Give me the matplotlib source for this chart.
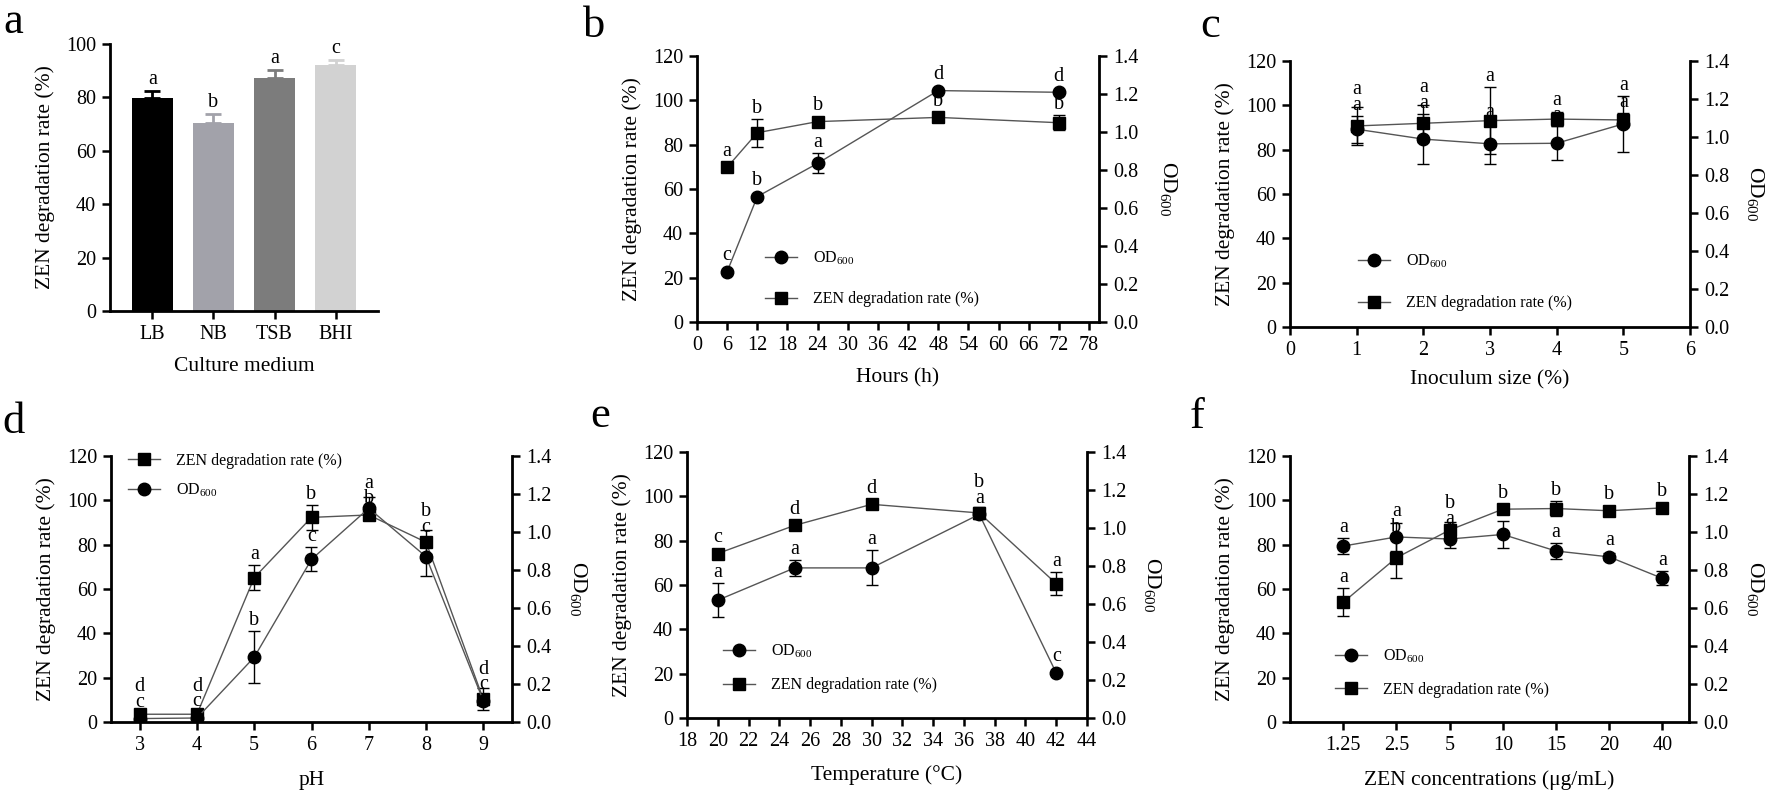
import numpy as np
import matplotlib
matplotlib.use('Agg')
import matplotlib.pyplot as plt

plt.rcParams['font.family'] = ['Liberation Serif', 'DejaVu Serif']
plt.rcParams['mathtext.fontset'] = 'custom'
plt.rcParams['mathtext.rm'] = 'Liberation Serif'
plt.rcParams['mathtext.it'] = 'Liberation Serif:italic'

# ---- data ----
# a: culture medium
media = ['LB', 'NB', 'TSB', 'BHI']
media_rate = [79.8, 70.4, 87.2, 92.2]
media_err = [2.6, 3.3, 3.0, 1.9]
media_letters = ['a', 'b', 'a', 'c']
media_colors = ['#000000', '#a2a2aa', '#7c7c7c', '#d2d2d2']

# b: time
hours = [6, 12, 24, 48, 72]
hours_rate = [69.8, 85.4, 90.4, 92.3, 89.9]
hours_rate_err = [0.5, 6.3, 1.5, 1.5, 3.5]
hours_od = [0.265, 0.660, 0.835, 1.218, 1.209]
hours_od_err = [0.01, 0.01, 0.053, 0.01, 0.01]
hours_rate_let = ['a', 'b', 'b', 'b', 'b']
hours_od_let = ['c', 'b', 'a', 'd', 'd']

# c: inoculum size
inoc = [1, 2, 3, 4, 5]
inoc_rate = [90.7, 91.9, 93.1, 93.8, 93.4]
inoc_rate_err = [8.4, 8.3, 15.0, 3.3, 3.0]
inoc_od = [1.041, 0.989, 0.964, 0.967, 1.069]
inoc_od_err = [0.070, 0.133, 0.107, 0.089, 0.146]
inoc_rate_let = ['a', 'a', 'a', 'a', 'a']
inoc_od_let = ['a', 'a', 'a', 'a', 'a']

# d: pH
ph = [3, 4, 5, 6, 7, 8, 9]
ph_rate = [3.5, 3.5, 65.1, 92.3, 93.4, 81.1, 10.2]
ph_rate_err = [0.8, 0.8, 5.6, 5.6, 2.0, 5.5, 5.0]
ph_od = [0.018, 0.021, 0.341, 0.856, 1.125, 0.870, 0.111]
ph_od_err = [0.005, 0.005, 0.138, 0.063, 0.060, 0.100, 0.020]
ph_rate_let = ['d', 'd', 'a', 'b', 'b', 'b', 'd']
ph_od_let = ['c', 'c', 'b', 'c', 'a', 'c', 'c']

# e: temperature
temp = [20, 25, 30, 37, 42]
temp_rate = [74.2, 86.9, 96.4, 92.5, 60.6]
temp_rate_err = [1.0, 1.0, 1.0, 2.5, 5.3]
temp_od = [0.620, 0.790, 0.790, 1.072, 0.237]
temp_od_err = [0.091, 0.043, 0.092, 0.018, 0.005]
temp_rate_let = ['c', 'd', 'd', 'b', 'a']
temp_od_let = ['a', 'a', 'a', 'a', 'c']

# f: ZEN concentration
conc = ['1.25', '2.5', '5', '10', '15', '20', '40']
conc_rate = [54.0, 74.1, 86.6, 96.0, 96.3, 95.3, 96.6]
conc_rate_err = [6.3, 9.0, 3.5, 1.0, 3.5, 1.0, 1.0]
conc_od = [0.926, 0.974, 0.963, 0.987, 0.900, 0.869, 0.756]
conc_od_err = [0.043, 0.076, 0.049, 0.070, 0.044, 0.018, 0.037]
conc_rate_let = ['a', 'b', 'b', 'b', 'b', 'b', 'b']
conc_od_let = ['a', 'a', 'a', 'a', 'a', 'a', 'a']

OD_LABEL = r'OD$_{\mathrm{600}}$'
RATE_LABEL = 'ZEN degradation rate (%)'

W, H = 1772, 794
fig = plt.figure(figsize=(W / 100, H / 100), dpi=100)


def box(l, r, t, b):
    return [l / W, 1 - b / H, (r - l) / W, (b - t) / H]


def style(ax, w_px, h_px, xlabel, ylabel, xlab_off, ylab_off=65):
    for s in ['top', 'right']:
        ax.spines[s].set_visible(False)
    for s in ['left', 'bottom']:
        ax.spines[s].set_linewidth(2)
    ax.tick_params(direction='out', length=6, width=1.8, labelsize=14.5, pad=4)
    ax.set_xlabel(xlabel, fontsize=15.5)
    ax.xaxis.set_label_coords(0.5, -xlab_off / h_px)
    ax.xaxis.label.set_va('center')
    ax.set_ylabel(ylabel, fontsize=15.5)
    ax.yaxis.set_label_coords(-ylab_off / w_px, 0.5)
    ax.yaxis.label.set_va('center')


def dual(rect, x, rate, rate_err, od, od_err, rate_let, od_let, xlim, xlabel,
         xlab_off, leg, od_first=True, xticks=None, xticklabels=None, r_off=70):
    l, r, t, b = rect
    w_px, h_px = r - l, b - t
    ax = fig.add_axes(box(l, r, t, b))
    ax2 = ax.twinx()
    style(ax, w_px, h_px, xlabel, RATE_LABEL, xlab_off)
    ax.set_ylim(0, 120)
    ax.set_yticks(np.arange(0, 121, 20))
    ax.set_xlim(*xlim)
    if xticks is not None:
        ax.set_xticks(xticks)
    if xticklabels is not None:
        ax.set_xticklabels(xticklabels)

    ax2.set_ylim(0, 1.4)
    ax2.set_yticks(np.arange(0, 1.41, 0.2))
    ax2.set_yticklabels(['%.1f' % v for v in np.arange(0, 1.41, 0.2)])
    for s in ['top', 'left', 'bottom']:
        ax2.spines[s].set_visible(False)
    ax2.spines['right'].set_linewidth(2)
    ax2.tick_params(direction='out', length=6, width=1.8, labelsize=14.5, pad=4)
    ax2.text(1 + r_off / w_px, 0.5, OD_LABEL, rotation=-90, ha='center', va='center',
             fontsize=15.5, transform=ax2.transAxes)

    ax.errorbar(x, rate, yerr=rate_err, fmt='none', ecolor='black',
                elinewidth=1, capsize=4, capthick=1, zorder=2)
    sq, = ax.plot(x, rate, color='#555555', lw=1, marker='s', ms=8.5,
                  mfc='black', mec='black', zorder=3, label=RATE_LABEL)
    ax2.errorbar(x, od, yerr=od_err, fmt='none', ecolor='black',
                 elinewidth=1, capsize=4, capthick=1, zorder=2)
    ci, = ax2.plot(x, od, color='#555555', lw=1, marker='o', ms=9,
                   mfc='black', mec='black', zorder=3, label=OD_LABEL)

    # significance letters, stacked when they collide
    k = 120 / 1.4
    for i, xi in enumerate(x):
        tops = [(max(rate[i] + rate_err[i], rate[i] + 2.5), rate_let[i]),
                (max((od[i] + od_err[i]) * k, od[i] * k + 2.5), od_let[i])]
        tops.sort(key=lambda p: p[0])
        lo = tops[0][0] + 0.5
        hi = max(tops[1][0] + 0.5, lo + 7)
        for yy, s in [(lo, tops[0][1]), (hi, tops[1][1])]:
            ax2.text(xi, yy, s, transform=ax.transData, ha='center', va='bottom',
                     fontsize=14.5, zorder=5)

    handles = [ci, sq] if od_first else [sq, ci]
    lx, ly, spacing = leg
    ax2.legend(handles=handles, loc='upper left', bbox_to_anchor=(lx, ly),
               frameon=False, fontsize=11.5, borderpad=0, borderaxespad=0,
               handlelength=2.0, handletextpad=1.0, labelspacing=spacing)
    return ax, ax2


# ---- a: bar chart ----
la, ra, ta, ba = 110, 378, 44, 311
axa = fig.add_axes(box(la, ra, ta, ba))
pos = np.arange(len(media))
axa.bar(pos, media_rate, width=0.67, color=media_colors, zorder=2)
for i in range(len(media)):
    axa.errorbar(pos[i], media_rate[i], yerr=[[0], [media_err[i]]], fmt='none',
                 ecolor=media_colors[i], elinewidth=2, capsize=6, capthick=2, zorder=1)
    axa.text(pos[i], media_rate[i] + media_err[i] + 0.8, media_letters[i],
             ha='center', va='bottom', fontsize=14.5)
axa.set_xlim(-0.69, 3.69)
axa.set_ylim(0, 100)
axa.set_yticks(np.arange(0, 101, 20))
axa.set_xticks(pos)
axa.set_xticklabels(media)
style(axa, ra - la, ba - ta, 'Culture medium', RATE_LABEL, 56)

# ---- b-f: dual axis line charts ----
dual((697, 1099, 56, 322), hours, hours_rate, hours_rate_err, hours_od, hours_od_err,
     hours_rate_let, hours_od_let, (0, 80), 'Hours (h)', 56, (0.17, 0.274, 1.55),
     xticks=np.arange(0, 79, 6))
dual((1290, 1690, 61, 327), inoc, inoc_rate, inoc_rate_err, inoc_od, inoc_od_err,
     inoc_rate_let, inoc_od_let, (0, 6), 'Inoculum size (%)', 53, (0.17, 0.278, 1.55),
     xticks=np.arange(0, 7, 1), r_off=66)
dual((111, 512, 456, 722), ph, ph_rate, ph_rate_err, ph_od, ph_od_err,
     ph_rate_let, ph_od_let, (2.5, 9.5), 'pH', 58, (0.042, 1.012, 0.8),
     od_first=False, xticks=ph, r_off=67)
dual((687, 1087, 452, 718), temp, temp_rate, temp_rate_err, temp_od, temp_od_err,
     temp_rate_let, temp_od_let, (18, 44), 'Temperature (°C)', 57, (0.091, 0.285, 1.1),
     xticks=np.arange(18, 45, 2), r_off=66)
cpos = np.arange(len(conc))
dual((1290, 1689, 456, 722), cpos, conc_rate, conc_rate_err, conc_od, conc_od_err,
     conc_rate_let, conc_od_let, (-1, 6.5), 'ZEN concentrations (μg/mL)', 58,
     (0.113, 0.28, 1.05), xticks=cpos, xticklabels=conc, r_off=66)

# panel letters
for s, x, y in [('a', 3, 33), ('b', 583, 37), ('c', 1200, 37),
                ('d', 2, 433), ('e', 590, 427), ('f', 1190, 428)]:
    fig.text(x / W, 1 - y / H, s, fontsize=32, ha='left', va='baseline')

fig.savefig('out.png', dpi=100)
